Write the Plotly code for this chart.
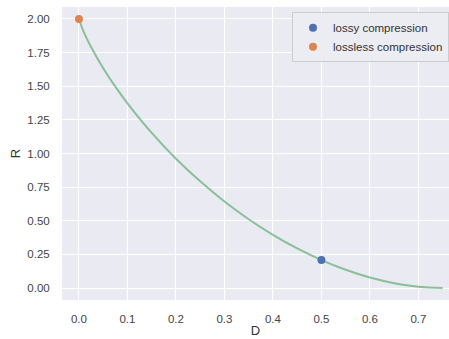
import plotly.graph_objects as go

# Rate-distortion curve R(D), sampled at these distortion values
distortion = [0.0, 0.01, 0.025, 0.05, 0.075, 0.1, 0.15, 0.2, 0.25, 0.3, 0.35,
              0.4, 0.45, 0.5, 0.55, 0.6, 0.65, 0.7, 0.75]
rate = [2.0, 1.903, 1.792, 1.634, 1.497, 1.373, 1.153, 0.961, 0.793, 0.643,
        0.511, 0.395, 0.294, 0.208, 0.136, 0.078, 0.036, 0.009, 0.0]

lossy_D = [0.5]
lossy_R = [0.208]
lossless_D = [0.0]
lossless_R = [2.0]

x_ticks = [0.0, 0.1, 0.2, 0.3, 0.4, 0.5, 0.6, 0.7]
y_ticks = [0.0, 0.25, 0.5, 0.75, 1.0, 1.25, 1.5, 1.75, 2.0]

fig = go.Figure()
fig.add_trace(go.Scatter(
    x=distortion, y=rate, mode="lines",
    line=dict(color="rgba(85,168,104,0.65)", width=2, shape="spline"),
    showlegend=False, hoverinfo="skip"))
fig.add_trace(go.Scatter(
    x=lossy_D, y=lossy_R, mode="markers", name="lossy compression",
    marker=dict(color="#4C72B0", size=8)))
fig.add_trace(go.Scatter(
    x=lossless_D, y=lossless_R, mode="markers", name="lossless compression",
    marker=dict(color="#DD8452", size=8)))

axis_common = dict(
    showgrid=True, gridcolor="white", gridwidth=1.2,
    zeroline=False, showline=False,
    ticks="outside", tickcolor="rgba(0,0,0,0)",
    tickfont=dict(family="Liberation Sans, Arial", size=11.5, color="#444"),
    title_font=dict(family="Liberation Sans, Arial", size=13, color="#333"),
)

fig.update_layout(
    width=449, height=339,
    margin=dict(l=62, r=0, t=7, b=39),
    paper_bgcolor="white", plot_bgcolor="#EAEAF2",
    font=dict(family="Liberation Sans, Arial", color="#333"),
    xaxis=dict(range=[-0.035, 0.763], tickvals=x_ticks, ticklen=8,
               ticktext=[f"{v:.1f}" for v in x_ticks],
               title=dict(text="D", standoff=2), **axis_common),
    yaxis=dict(range=[-0.089, 2.089], tickvals=y_ticks, ticklen=9,
               ticktext=[f"{v:.2f}" for v in y_ticks],
               title=dict(text="R", standoff=3), **axis_common),
    legend=dict(x=1.0, y=0.982, xanchor="right", yanchor="top",
                bgcolor="rgba(236,236,243,0.9)", bordercolor="#cccccc",
                borderwidth=1, font=dict(size=11.5, color="#333"),
                itemwidth=30, tracegroupgap=0),
)

fig.write_html("out.html")
